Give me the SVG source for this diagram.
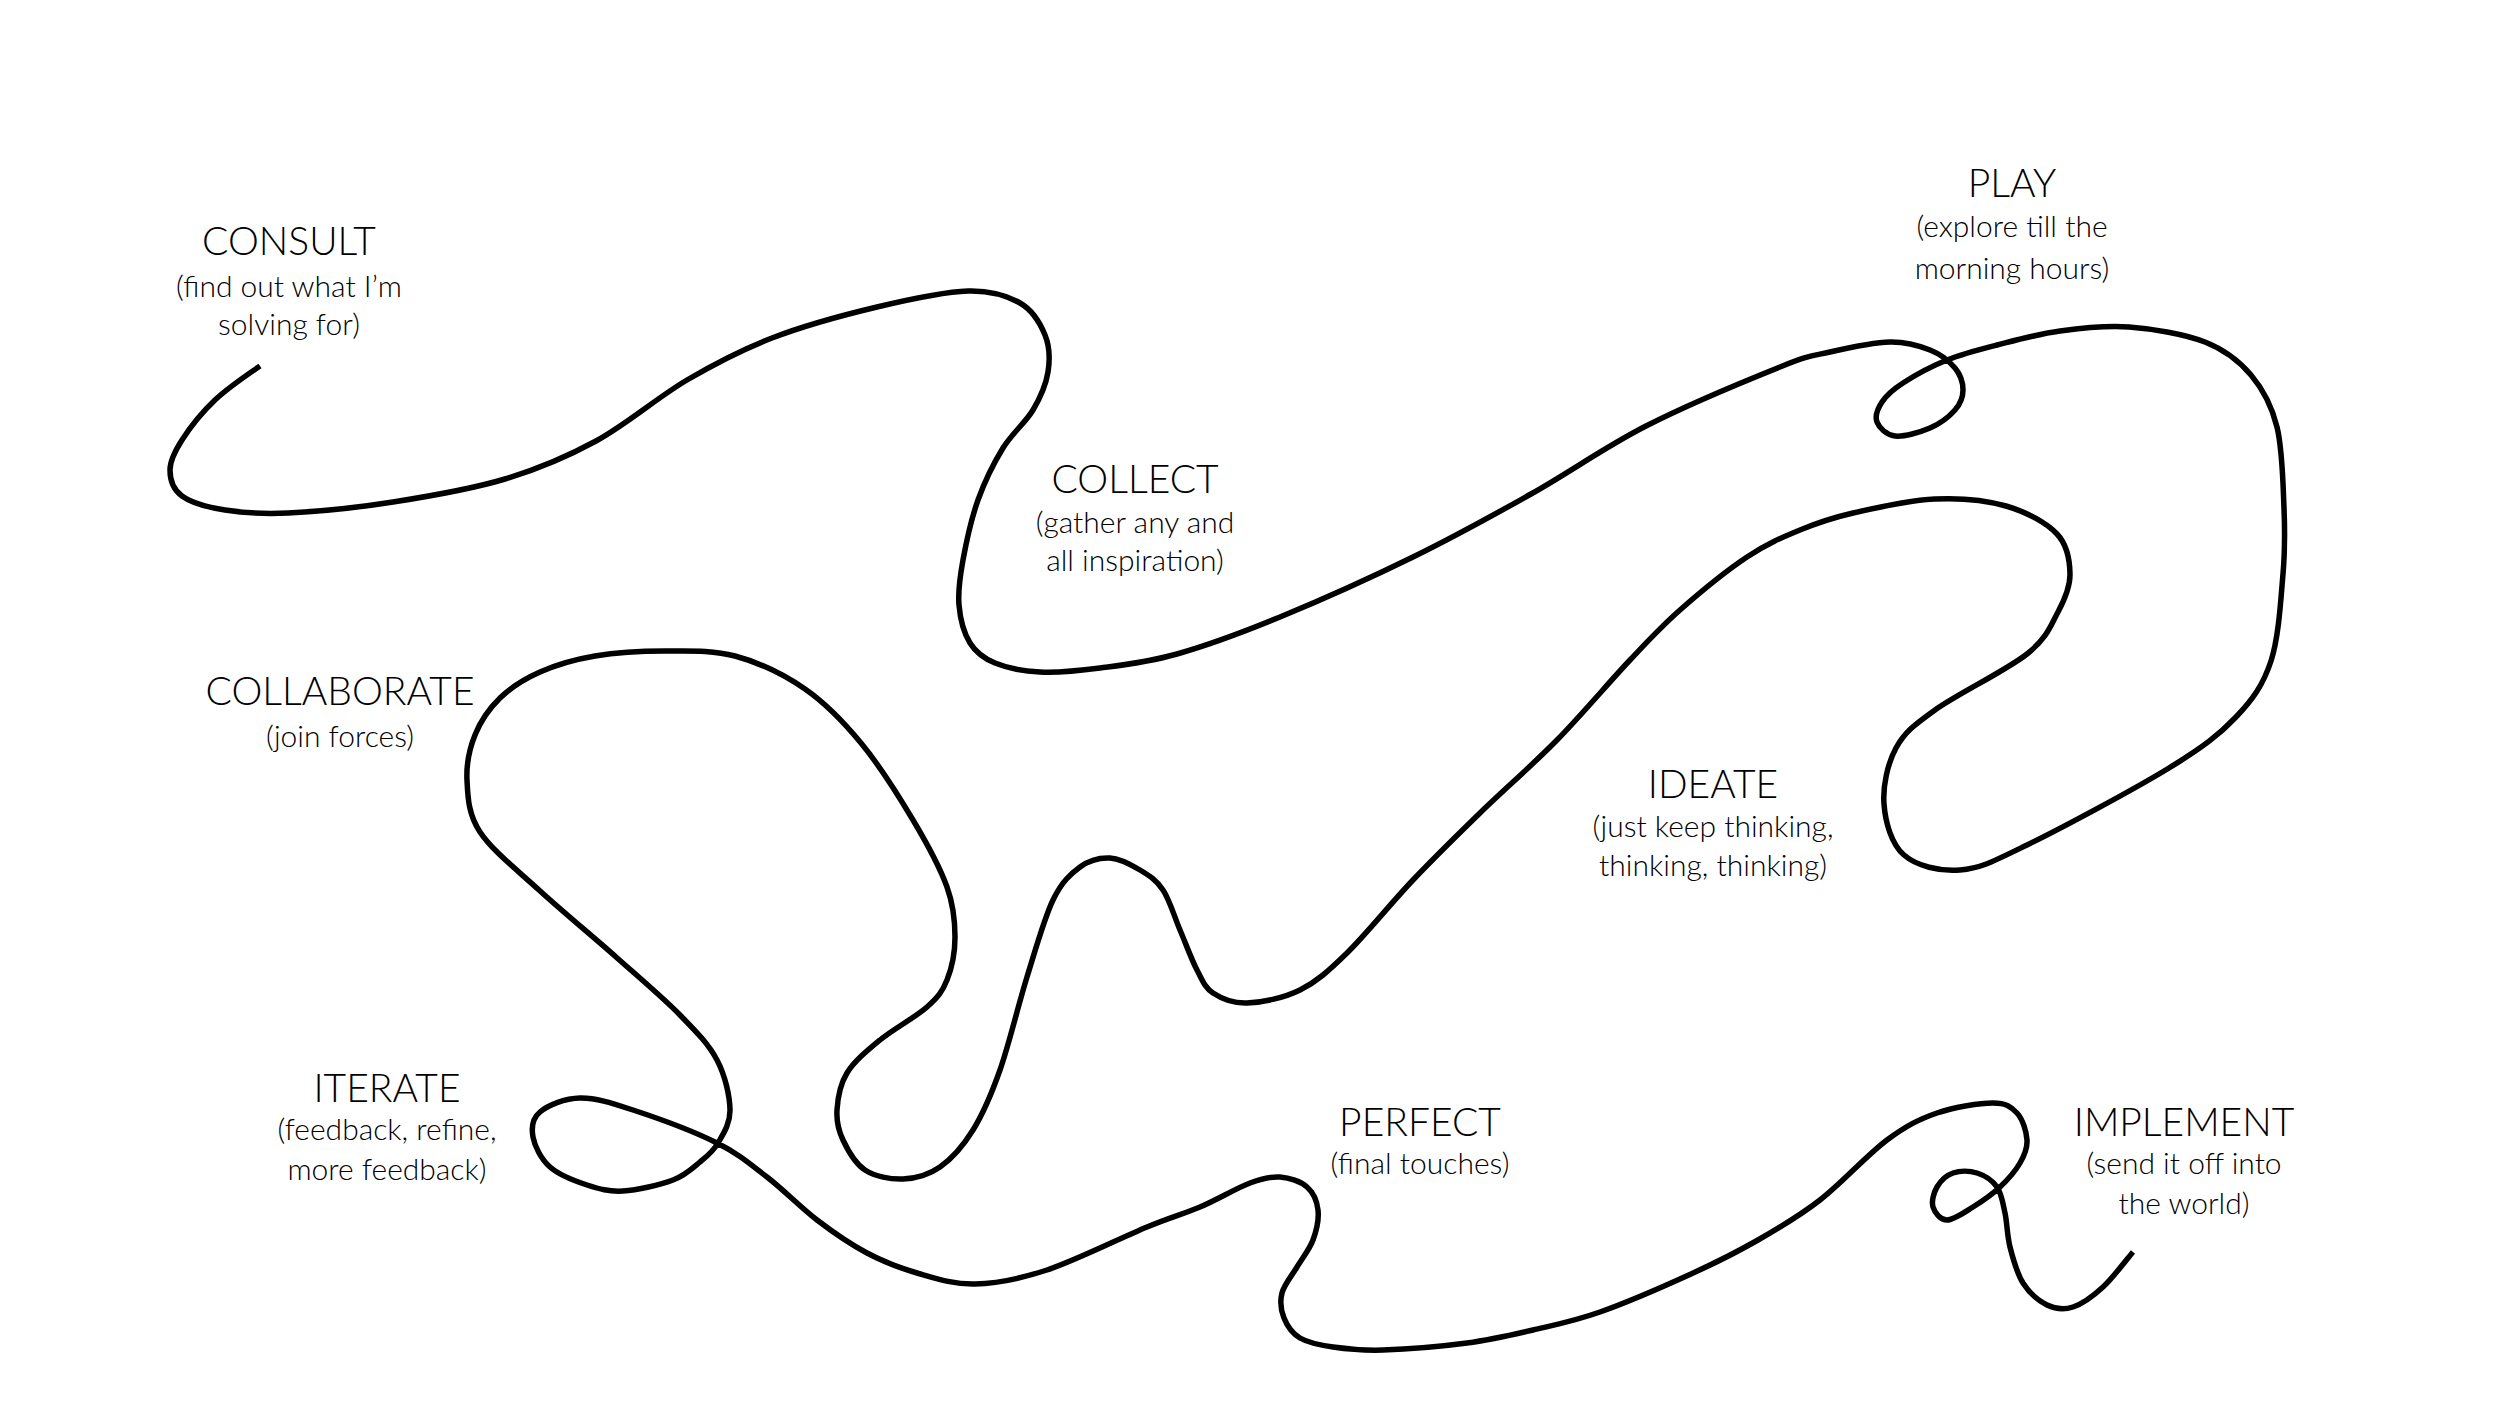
<svg xmlns="http://www.w3.org/2000/svg" width="2500" height="1405" viewBox="0 0 2500 1405">
<style>
.t{font-family:Lato,"Liberation Sans",sans-serif;font-weight:300;fill:#000;text-anchor:middle}
.h{font-size:39px}
.s{font-size:30px}
.path{fill:none;stroke:#000;stroke-width:5.5;stroke-linecap:butt;stroke-linejoin:round}
</style>
<rect width="2500" height="1405" fill="#fff"/>
<g id="connectors">
<path class="path" d="M260 366 S228 387.7 215 400 S189.5 428.3 182 440 S170 460.7 170 470 S172.8 489.3 182 496 S207.3 507.2 225 510 S260 514.3 288 513 S356.8 507.7 393 502 S471.2 489.2 505 479 S565.7 457.5 596 441 S657.7 397.2 687 380 S740.3 350.2 772 338 S844.3 314.8 877 307 S944.2 291.7 968 291 S1007.2 295.7 1020 303 S1040.3 323.5 1045 335 S1050 359.5 1048 372 S1040.5 397.3 1033 410 S1012.2 433 1003 448 S984.7 481.3 978 500 S966.2 542.5 963 560 S957.8 591.2 959 605 S964 633.3 970 643 S983.3 658.2 995 663 S1022.5 671.2 1040 672 S1077.2 671 1100 668 S1147 662.5 1177 654 S1240.7 633.2 1280 617 S1371.2 577.5 1413 557 S1492.2 515.8 1531 494 S1604.5 447.2 1646 426 S1749.3 379.3 1780 367 S1811.7 356.2 1830 352 S1873.3 342.3 1890 342 S1919.2 345.7 1930 350 S1949.5 361.3 1955 368 S1963 383 1963 390 S1960.5 403.7 1955 410 S1940 423.7 1930 428 S1903.8 437 1895 436 S1879.2 427.7 1877 422 S1877.7 408.5 1882 402 S1892.2 390 1903 383 S1931.3 366.3 1947 360 S1978.2 349.8 1997 345 S2038 334 2060 331 S2104.8 325.2 2129 327 S2184.7 334 2205 342 S2239 360.8 2251 375 S2271.5 404.8 2277 427 S2283 483.5 2284 508 S2285.2 548.5 2283 574 S2278.8 637.2 2271 661 S2253 699.2 2236 717 S2203.8 746.7 2169 768 S2061.8 828 2027 845 S1980.5 868.3 1960 870 S1916.7 866 1904 855 S1885.3 821.8 1884 804 S1887.5 763.7 1896 748 S1913.2 725.7 1935 710 S2006.5 670.3 2027 654 S2050.8 625.3 2058 612 S2070.2 587 2070 574 S2067.7 545.3 2057 534 S2026.3 511.8 2006 506 S1960.5 497.8 1935 499 S1875.5 507.8 1853 513 S1817.7 522.7 1800 530 S1767 543.7 1747 557 S1699.5 592.8 1680 610 S1650.5 638.3 1630 660 S1582 714.5 1557 740 S1504 789.7 1480 813 S1435.2 856.7 1413 880 S1365.8 934.7 1347 953 S1316.7 981.7 1300 990 S1261.5 1002.5 1247 1003 S1221.3 998.5 1213 993 S1202.5 980.5 1197 970 S1185.7 943.3 1180 930 S1169.7 900 1163 890 S1148.8 875.3 1140 870 S1120 858.5 1110 858 S1089.5 860 1080 867 S1061.8 881.7 1053 900 S1035.8 948.7 1027 977 S1009 1044.5 1000 1070 S983 1113.8 973 1130 S951.7 1158.8 940 1167 S915.5 1178.5 903 1179 S875 1176.5 865 1170 S847.7 1150 843 1140 S836.3 1121.2 837 1110 S839.8 1084.7 847 1073 S866.7 1051 880 1040 S915.8 1017 927 1007 S942.3 991.7 947 980 S955 952.5 955 937 S954 906.5 947 887 S927.3 844 913 820 S879 764.8 861 743 S826 703.5 805 689 S758.3 662.3 735 656 S688.3 651 665 651 S615.8 652.5 595 656 S555.8 665 540 672 S510.8 687.5 500 698 S480.5 721.3 475 735 S466.2 763.8 467 780 S468 813.7 480 832 S516.3 869.2 539 890 S592.5 936.2 616 957 S663.2 997.8 680 1015 S708.7 1044.2 717 1060 S729.8 1096.2 730 1110 S723 1134.3 718 1143 S707.5 1155.8 700 1162 S685.8 1175.2 673 1180 S637.3 1190.2 623 1191 S599.2 1189 587 1185 S559 1175 550 1167 S534.7 1146.2 533 1137 S532.2 1118.5 540 1112 S564.5 1098.3 580 1098 S610.2 1102.5 633 1110 S694.7 1131.8 717 1143 S750.3 1164.2 767 1177 S800.3 1207.3 817 1220 S850.3 1244.2 867 1253 S899 1267.8 917 1273 S953.3 1284.5 975 1284 S1018.3 1279.5 1047 1270 S1121.5 1237.5 1147 1227 S1182.8 1214.3 1200 1207 S1236.7 1188 1250 1183 S1270.5 1176.3 1280 1177 S1300.7 1181.5 1307 1187 S1317 1201.2 1318 1210 S1316.5 1230.5 1313 1240 S1302.2 1258.2 1297 1267 S1284.2 1284.5 1282 1293 S1281 1310.5 1284 1318 S1291.8 1333.2 1300 1338 S1319.2 1345 1333 1347 S1360.7 1350.7 1383 1350 S1442 1346.3 1467 1343 S1510.8 1335.2 1533 1330 S1573.7 1321.3 1600 1312 S1664.7 1286 1691 1274 S1736.5 1252.3 1758 1240 S1798.5 1216.7 1820 1200 S1867.5 1154.5 1887 1140 S1919.3 1119.2 1937 1113 S1979.7 1103 1993 1103 S2011.3 1106.8 2017 1113 S2026.5 1131.7 2027 1140 S2024.5 1155.2 2020 1163 S2007.8 1179.7 2000 1187 S1981.8 1201.5 1973 1207 S1953.7 1220 1947 1220 S1934.7 1212.5 1933 1207 S1933.7 1192.7 1937 1187 S1946.3 1175.3 1953 1173 S1969.7 1170.7 1977 1173 S1992.3 1180.3 1997 1187 S2002.8 1203 2005 1213 S2007 1235.3 2010 1247 S2016.8 1273.3 2023 1283 S2038.7 1301 2047 1305 S2063.7 1310 2073 1307 S2093 1296.2 2103 1287 S2128 1257.8 2133 1252"/>
</g>
<g id="consult"><text class="t h" x="289" y="255">CONSULT</text><text class="t s" x="289" y="297">(find out what I’m</text><text class="t s" x="289" y="335">solving for)</text></g>
<g id="collect"><text class="t h" x="1135" y="493">COLLECT</text><text class="t s" x="1135" y="533">(gather any and</text><text class="t s" x="1135" y="571">all inspiration)</text></g>
<g id="play"><text class="t h" x="2012" y="197">PLAY</text><text class="t s" x="2012" y="237">(explore till the</text><text class="t s" x="2012" y="279">morning hours)</text></g>
<g id="collaborate"><text class="t h" x="340" y="705">COLLABORATE</text><text class="t s" x="340" y="747">(join forces)</text></g>
<g id="ideate"><text class="t h" x="1713" y="798">IDEATE</text><text class="t s" x="1713" y="837">(just keep thinking,</text><text class="t s" x="1713" y="876">thinking, thinking)</text></g>
<g id="iterate"><text class="t h" x="387" y="1102">ITERATE</text><text class="t s" x="387" y="1140">(feedback, refine,</text><text class="t s" x="387" y="1180">more feedback)</text></g>
<g id="perfect"><text class="t h" x="1420" y="1136">PERFECT</text><text class="t s" x="1420" y="1174">(final touches)</text></g>
<g id="implement"><text class="t h" x="2184" y="1136">IMPLEMENT</text><text class="t s" x="2184" y="1174">(send it off into</text><text class="t s" x="2184" y="1214">the world)</text></g>
</svg>
